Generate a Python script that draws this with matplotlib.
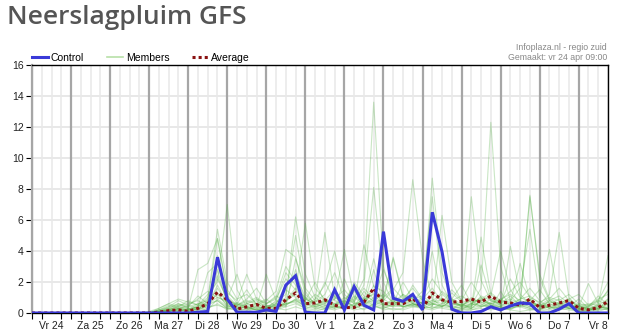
import matplotlib
matplotlib.use("Agg")
import matplotlib.pyplot as plt
import numpy as np

# 6-hourly steps from Vr 24 00:00 to Vr 8 18:00
day_labels = ["Vr 24", "Za 25", "Zo 26", "Ma 27", "Di 28", "Wo 29", "Do 30",
              "Vr 1", "Za 2", "Zo 3", "Ma 4", "Di 5", "Wo 6", "Do 7", "Vr 8"]

control = [0] * 12 + [
    0, 0, 0, 0,
    0, 0.05, 0.1, 3.6,
    0.9, 0.05, 0.05, 0.05,
    0.2, 0.1, 1.8, 2.4,
    0.05, 0, 0, 1.5,
    0.2, 1.7, 0.5, 0.2,
    5.25, 0.95, 0.75, 1.2,
    0.2, 6.5, 3.95, 0.25,
    0, 0, 0.1, 0.4,
    0.2, 0.45, 0.65, 0.6,
    0, 0, 0.25, 0.6,
    0, 0, 0, 0,
]

average = [0] * 12 + [
    0, 0.05, 0.15, 0.2,
    0.1, 0.3, 0.6, 1.35,
    0.85, 0.25, 0.4, 0.55,
    0.3, 0.3, 0.85, 1.3,
    0.6, 0.65, 0.85, 0.5,
    0.35, 0.35, 0.7, 1.6,
    0.6, 0.6, 0.6, 0.95,
    0.3, 1.3, 0.85, 0.7,
    0.75, 0.9, 0.7, 1.1,
    0.7, 0.65, 0.5, 0.9,
    0.35, 0.5, 0.65, 0.8,
    0.3, 0.2, 0.35, 0.75,
]

# ensemble members, Ma 27 00:00 onwards (earlier steps are dry)
members_tail = [
    [0, 0.1, 0.3, 0.2, 0.1, 0.5, 1.2, 2.0, 7.0, 1.5, 0.4, 0.2, 0.3, 0.6, 1.8, 2.5,
     1.0, 0.4, 0.8, 1.5, 0.6, 0.9, 2.2, 13.6, 3.0, 0.8, 0.4, 0.6, 0.3, 1.2, 0.9, 0.3,
     0.2, 0.6, 1.0, 0.5, 0.4, 0.2, 0.6, 0.9, 0.3, 0.2, 0.4, 0.6, 0.1, 0.2, 0.3, 0.8],
    [0, 0.2, 0.4, 0.6, 0.3, 2.8, 3.2, 4.8, 1.5, 0.6, 0.3, 0.5, 0.8, 1.4, 4.1, 3.6,
     1.2, 0.6, 0.3, 0.9, 1.5, 0.7, 1.8, 8.1, 2.0, 0.6, 0.9, 1.6, 0.8, 0.5, 1.4, 0.9,
     0.4, 0.3, 4.9, 1.2, 0.6, 1.1, 0.5, 0.3, 0.2, 0.8, 0.4, 0.3, 0.5, 0.2, 0.1, 0.3],
    [0, 0, 0.1, 0.3, 0.2, 0.4, 0.9, 5.4, 2.0, 0.9, 1.2, 0.6, 0.3, 0.5, 1.0, 6.2,
     2.5, 1.0, 0.6, 0.4, 0.3, 1.1, 0.7, 1.3, 0.8, 1.5, 2.6, 8.6, 3.5, 0.9, 0.4, 0.8,
     0.5, 0.9, 0.7, 0.4, 0.3, 4.3, 1.2, 0.6, 0.4, 0.5, 0.7, 0.3, 0.2, 0.1, 0.5, 1.5],
    [0.1, 0.3, 0.6, 0.4, 0.8, 0.5, 0.3, 3.7, 1.0, 0.4, 0.6, 0.9, 0.5, 0.3, 0.7, 1.4,
     5.8, 1.6, 0.9, 0.5, 0.8, 0.4, 1.0, 0.6, 1.0, 3.6, 1.1, 0.7, 0.4, 8.7, 2.6, 0.9,
     0.6, 0.3, 0.8, 0.6, 0.9, 0.5, 0.4, 7.6, 2.2, 0.8, 0.5, 0.3, 0.6, 0.4, 0.8, 0.5],
    [0, 0.1, 0.2, 0.5, 0.4, 0.6, 0.5, 1.8, 0.6, 0.3, 0.2, 0.4, 0.2, 0.6, 0.4, 3.5,
     1.6, 0.8, 5.2, 1.0, 0.7, 0.5, 0.9, 1.2, 0.5, 0.8, 0.4, 0.6, 0.9, 0.6, 0.5, 0.4,
     0.3, 7.5, 2.1, 0.8, 0.5, 0.4, 0.9, 1.1, 0.6, 1.2, 5.2, 1.0, 0.3, 0.2, 0.6, 3.7],
    [0, 0, 0.2, 0.1, 0.3, 0.2, 0.8, 2.2, 0.9, 2.5, 0.6, 0.4, 2.5, 0.8, 0.5, 0.9,
     0.6, 0.3, 0.7, 0.9, 4.1, 1.0, 0.6, 0.8, 0.5, 0.7, 1.2, 0.9, 1.1, 0.6, 0.4, 1.3,
     0.7, 0.5, 1.6, 12.3, 3.0, 0.8, 0.4, 0.6, 0.5, 0.3, 0.6, 0.9, 1.2, 0.5, 0.3, 0.4],
    [0, 0.2, 0.1, 0.3, 0.5, 0.9, 1.4, 1.0, 0.7, 0.5, 0.9, 1.6, 0.6, 0.9, 2.2, 1.5,
     0.8, 2.0, 0.7, 0.5, 1.0, 0.6, 4.4, 1.7, 1.4, 0.6, 0.8, 0.5, 0.7, 0.4, 6.3, 2.0,
     0.8, 0.6, 0.5, 0.9, 0.6, 0.8, 1.6, 5.4, 1.0, 4.1, 0.7, 0.5, 0.4, 1.9, 0.6, 0.3],
    [0, 0.1, 0.4, 0.8, 0.5, 0.3, 0.6, 1.0, 0.8, 0.6, 0.4, 0.3, 0.4, 0.7, 1.2, 5.0,
     1.4, 0.5, 0.8, 0.6, 0.7, 1.8, 0.9, 0.5, 0.8, 3.5, 1.0, 0.6, 0.4, 0.7, 0.9, 0.6,
     0.5, 0.3, 0.8, 1.1, 4.0, 1.5, 0.6, 7.5, 2.5, 0.9, 0.6, 0.4, 0.5, 0.3, 0.2, 0.9],
    [0, 0, 0.1, 0.2, 0.1, 0.3, 0.5, 0.8, 0.3, 0.2, 0.5, 0.6, 0.3, 0.5, 0.8, 1.2,
     0.9, 0.6, 0.4, 0.3, 0.5, 0.8, 1.6, 0.9, 0.6, 0.4, 0.5, 0.8, 1.4, 7.5, 1.8, 0.6,
     0.4, 0.6, 0.9, 0.5, 0.3, 0.5, 0.7, 0.4, 0.6, 0.3, 0.5, 0.8, 0.4, 0.3, 0.2, 0.6],
    [0, 0.1, 0.1, 0.2, 0.2, 0.4, 2.6, 3.2, 1.1, 0.5, 0.8, 0.6, 0.9, 0.4, 0.6, 0.8,
     0.5, 0.9, 1.8, 4.0, 1.2, 0.6, 0.8, 3.5, 0.9, 0.5, 0.7, 1.0, 0.6, 0.8, 0.6, 0.9,
     1.8, 0.6, 0.4, 0.7, 0.9, 1.2, 0.8, 0.6, 0.4, 0.6, 0.9, 0.5, 0.3, 0.5, 0.9, 1.2],
    [0, 0.2, 0.5, 0.3, 0.2, 0.6, 0.8, 4.8, 1.3, 0.8, 2.5, 0.9, 0.6, 1.0, 3.0, 2.0,
     0.7, 0.4, 0.6, 1.1, 0.4, 0.3, 0.5, 1.0, 2.8, 1.2, 0.6, 0.4, 0.5, 0.3, 0.6, 1.5,
     0.8, 2.0, 1.0, 0.6, 0.5, 0.7, 3.2, 0.9, 0.4, 0.8, 1.1, 0.6, 0.3, 0.4, 0.7, 1.4],
    [0, 0.1, 0.3, 0.5, 0.6, 0.8, 0.4, 2.8, 0.5, 0.3, 0.4, 0.2, 0.3, 0.8, 2.6, 1.8,
     0.9, 0.6, 2.0, 0.8, 0.6, 0.4, 1.4, 0.7, 0.5, 0.9, 0.6, 1.8, 0.9, 1.6, 0.7, 0.3,
     0.6, 0.4, 3.1, 0.9, 0.5, 0.6, 0.9, 1.6, 0.8, 0.3, 0.4, 0.6, 0.2, 0.4, 1.1, 0.5],
    [0, 0, 0.2, 0.4, 0.3, 0.2, 0.5, 1.3, 0.4, 0.6, 1.5, 0.5, 0.2, 0.3, 0.5, 0.9,
     0.4, 0.8, 0.5, 0.3, 2.2, 0.7, 0.4, 2.8, 0.6, 0.4, 1.2, 0.6, 0.3, 0.6, 0.4, 0.8,
     0.4, 1.0, 0.6, 0.3, 1.4, 0.4, 0.6, 0.8, 1.5, 0.6, 0.3, 0.4, 0.9, 0.3, 0.5, 0.2],
    [0, 0.1, 0.2, 0.1, 0.2, 0.3, 0.6, 1.6, 0.6, 0.4, 0.3, 0.2, 0.4, 0.3, 0.7, 2.8,
     0.6, 0.4, 0.3, 0.5, 0.3, 0.6, 0.5, 1.8, 0.4, 0.6, 2.0, 0.9, 0.6, 4.0, 0.8, 0.5,
     0.3, 0.5, 0.7, 0.6, 0.4, 0.3, 0.5, 0.7, 0.5, 0.4, 0.6, 0.3, 0.2, 0.3, 0.4, 0.3],
    [0, 0.2, 0.3, 0.6, 0.4, 1.1, 0.6, 0.8, 0.3, 0.7, 0.4, 0.6, 0.5, 0.4, 0.6, 0.7,
     0.3, 0.5, 0.9, 0.6, 0.8, 0.4, 0.7, 0.5, 0.3, 0.6, 0.4, 0.5, 0.7, 0.5, 0.9, 0.6,
     0.5, 0.8, 0.4, 0.6, 0.7, 0.9, 0.6, 0.4, 0.5, 0.7, 0.6, 0.9, 0.5, 0.2, 0.3, 0.6],
    [0, 0, 0.1, 0.3, 0.2, 0.1, 0.3, 0.6, 0.2, 0.5, 0.3, 0.2, 0.1, 0.2, 0.4, 0.6,
     0.3, 0.2, 0.5, 0.4, 0.3, 0.5, 0.2, 0.6, 0.4, 0.2, 0.3, 0.5, 0.3, 0.4, 0.3, 0.2,
     0.2, 0.3, 0.5, 0.4, 0.2, 0.3, 0.4, 0.2, 0.3, 0.4, 0.2, 0.3, 0.1, 0.2, 0.3, 0.2],
    [0, 0.1, 0.2, 0.4, 0.3, 0.4, 0.7, 1.2, 0.5, 0.3, 0.6, 0.8, 0.4, 0.6, 1.5, 1.0,
     0.6, 1.2, 0.8, 0.5, 0.6, 2.0, 1.1, 0.8, 1.2, 0.7, 0.5, 1.1, 0.6, 0.8, 1.2, 0.7,
     0.5, 0.4, 1.1, 0.8, 0.6, 2.2, 1.0, 0.7, 0.5, 0.9, 1.6, 0.8, 0.4, 0.6, 0.5, 0.9],
    [0, 0, 0.1, 0.2, 0.1, 0.2, 0.4, 0.5, 0.3, 0.2, 0.1, 0.3, 0.2, 0.3, 0.2, 0.4,
     0.2, 0.1, 0.3, 0.2, 0.4, 0.2, 0.3, 0.5, 0.2, 0.3, 0.2, 0.4, 0.3, 0.2, 0.4, 0.3,
     0.1, 0.2, 0.3, 0.2, 0.3, 0.2, 0.1, 0.2, 0.2, 0.1, 0.3, 0.2, 0.1, 0.1, 0.2, 0.3],
    [0, 0.3, 0.6, 0.9, 0.7, 0.5, 1.0, 2.4, 0.8, 0.5, 0.7, 1.0, 0.6, 1.1, 0.8, 1.6,
     1.0, 0.7, 1.2, 2.6, 0.9, 1.4, 0.8, 1.5, 1.0, 1.6, 0.9, 0.7, 1.0, 2.2, 1.3, 0.8,
     1.1, 0.7, 0.9, 1.3, 0.8, 1.4, 2.0, 1.0, 0.7, 1.0, 0.8, 1.2, 0.6, 0.5, 0.8, 2.0],
    [0, 0.1, 0.2, 0.3, 0.2, 0.3, 0.2, 0.9, 0.4, 0.3, 0.2, 0.4, 0.3, 0.2, 0.6, 0.8,
     0.4, 0.3, 0.2, 0.4, 0.5, 0.3, 0.6, 0.4, 0.3, 0.5, 0.4, 0.6, 0.4, 0.3, 0.5, 0.4,
     0.3, 0.2, 0.4, 0.5, 0.4, 0.3, 0.5, 0.3, 0.2, 0.4, 0.3, 0.5, 0.3, 0.2, 0.4, 0.3],
]
members = [[0] * 12 + m for m in members_tail]

steps = np.arange(len(control))

fig = plt.figure(figsize=(6.23, 3.33), dpi=100)
ax = fig.add_axes((32 / 623, 20 / 333, 576 / 623, 248 / 333))

# grid: light every 6h / 2mm, dark at day boundaries
for i in steps:
    if i % 4 == 0:
        ax.axvline(i, color="#a6a6a6", lw=1.6, zorder=1)
    else:
        ax.axvline(i, color="#e8e8e8", lw=1.1, zorder=0)
for v in range(2, 16, 2):
    ax.axhline(v, color="#e8e8e8", lw=1.4, zorder=0)

member_lines = []
for m in members:
    (ln,) = ax.plot(steps, m, color="#4fae3f", lw=0.8, alpha=0.3, zorder=2)
    member_lines.append(ln)

(avg_line,) = ax.plot(steps, average, color="#8a1212", lw=2.2,
                      linestyle=(0, (1, 1)), dash_capstyle="butt", zorder=3)
(ctrl_line,) = ax.plot(steps, control, color="#3a3ad8", lw=2.2, zorder=4,
                       solid_joinstyle="miter")

ax.set_xlim(0, len(control) - 1)
ax.set_ylim(0, 16)
ax.set_yticks(range(0, 17, 2))
ax.set_xticks(steps, minor=True)
ax.set_xticks([2 + 4 * k for k in range(len(day_labels))])
ax.set_xticklabels(day_labels)
ax.tick_params(axis="x", which="major", length=0, pad=6, labelsize=7.5,
               labelcolor="#222222")
ax.tick_params(axis="x", which="minor", length=4, width=0.8, direction="out")
ax.tick_params(axis="y", length=4, width=0.8, labelsize=7.5, labelcolor="#222222",
               pad=2)
for lab in ax.get_xticklabels() + ax.get_yticklabels():
    lab.set_fontfamily("Liberation Sans")

for side in ["top", "right", "bottom"]:
    ax.spines[side].set_color("black")
    ax.spines[side].set_linewidth(1.0)
ax.spines["left"].set_color("#a6a6a6")
ax.spines["left"].set_linewidth(1.6)

# custom legend handle for members (solid, visible)
legend_member = plt.Line2D([], [], color="#b8e0a8", lw=1.2)
ax.legend([ctrl_line, legend_member, avg_line], ["Control", "Members", "Average"],
          ncol=3, loc="center left", bbox_to_anchor=(0.0, 1 + 7 / 248),
          frameon=False, handlelength=1.5, handletextpad=0.3, columnspacing=2.2,
          borderpad=0, borderaxespad=0,
          prop={"family": "Liberation Sans", "size": 7.5})

fig.text(7 / 623, 1 - 18 / 333, "Neerslagpluim GFS", fontsize=19,
         fontfamily="Open Sans", fontweight="semibold", color="#555555",
         va="center", ha="left")
fig.text(607 / 623, 1 - 47 / 333, "Infoplaza.nl - regio zuid", fontsize=6.3,
         fontfamily="Liberation Sans", color="#888888", ha="right", va="center")
fig.text(607 / 623, 1 - 57 / 333, "Gemaakt: vr 24 apr 09:00", fontsize=6.3,
         fontfamily="Liberation Sans", color="#888888", ha="right", va="center")

fig.savefig("out.png", dpi=100)
